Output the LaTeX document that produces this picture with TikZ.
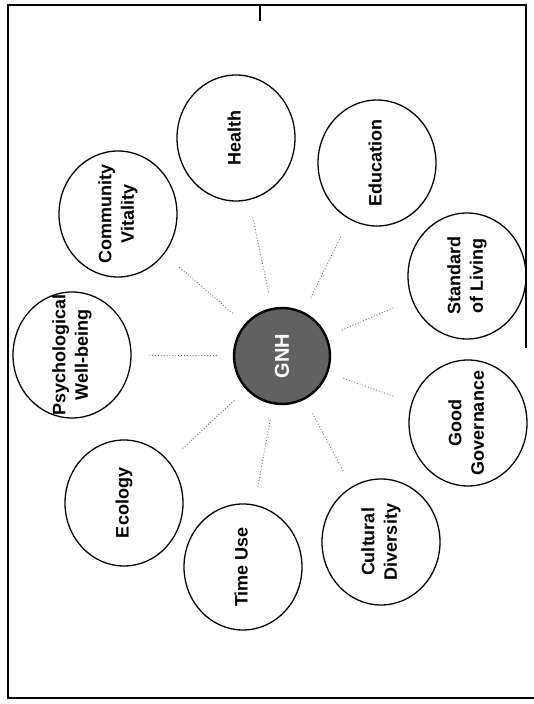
\documentclass[tikz,border=0pt]{standalone}
\usepackage{fontspec}
\setmainfont{Liberation Sans}
\usetikzlibrary{shapes.geometric}
\newcommand{\dimtext}[1]{\makebox[0pt]{\begin{tabular}{@{}c@{}}#1\end{tabular}}}
\tikzset{
  dim/.style={draw=black, line width=1.3pt, ellipse, minimum width=126pt, minimum height=118pt,
    inner sep=0pt, rotate=90, font=\fontsize{18}{22.5}\selectfont\bfseries},
  hub/.style={draw=black, line width=2.4pt, circle, fill=black!62, minimum size=96pt, inner sep=0pt,
    rotate=90, text=white, font=\fontsize{20}{22}\selectfont\bfseries},
  conn/.style={draw=black!55, line width=0.9pt, dotted, shorten <=16pt, shorten >=18pt},
  frame/.style={draw=black, line width=2.6pt}
}
\begin{document}
\begin{tikzpicture}[x=1pt,y=1pt]
\useasboundingbox (0,0) rectangle (534,704);
% frame
\draw[frame] (526,356) -- (526,699) -- (8,699) -- (8,6) -- (534,6);
\coordinate (tickA) at (260,699);
\coordinate (tickB) at (260,683);
\draw[frame, line width=2pt] (tickA) -- (tickB);
% hub
\node[hub] (gnh) at (282,348) {GNH};
% dimensions
\node[dim] (health) at (236,566) {\dimtext{Health}};
\node[dim] (edu) at (377,541) {\dimtext{Education}};
\node[dim] (sol) at (467,428) {\dimtext{Standard\\of Living}};
\node[dim] (gov) at (468,281) {\dimtext{Good\\Governance}};
\node[dim] (cul) at (381,162) {\dimtext{Cultural\\Diversity}};
\node[dim] (time) at (243,137) {\dimtext{Time Use}};
\node[dim] (eco) at (124,201) {\dimtext{Ecology}};
\node[dim] (psy) at (72,349) {\dimtext{Psychological\\Well-being}};
\node[dim] (com) at (118,490) {\dimtext{Community\\Vitality}};
% connectors
\foreach \t in {health,edu,sol,gov,cul,time,eco,psy,com}
  \draw[conn] (gnh) -- (\t);
\end{tikzpicture}
\end{document}
